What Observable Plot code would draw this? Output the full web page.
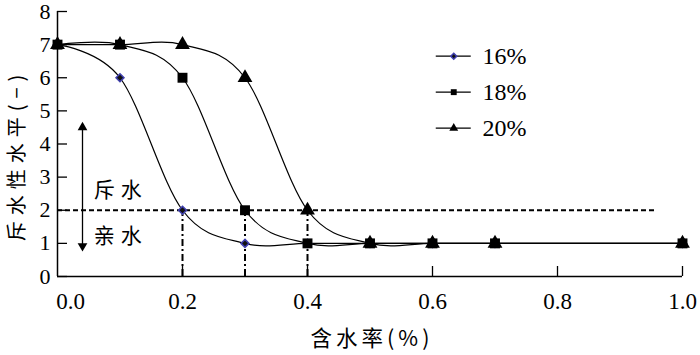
<!DOCTYPE html>
<html><head><meta charset="utf-8">
<script src="https://cdn.jsdelivr.net/npm/d3@7"></script>
<script src="https://cdn.jsdelivr.net/npm/@observablehq/plot@0.6"></script>
<style>
body{margin:0;background:#fff;}
#chart{width:700px;height:355px;}
#chart g[font-family*="CJK"] text{letter-spacing:6px;}
#chart g[font-family*="CJK"][font-size="21.5"] text{letter-spacing:4px;}
</style>
</head><body><div id="chart"></div>
<script>
// ---- data ----
const moisture = [0, 0.1, 0.2, 0.3, 0.4, 0.5, 0.6, 0.7, 1.0];
const series16 = [7, 6, 2, 1, 1, 1, 1, 1, 1];
const series18 = [7, 7, 6, 2, 1, 1, 1, 1, 1];
const series20 = [7, 7, 7, 6, 2, 1, 1, 1, 1];
const seriesNames = ["16%", "18%", "20%"];
const xTicks = [0, 0.2, 0.4, 0.6, 0.8, 1.0];
const yTicks = [0, 1, 2, 3, 4, 5, 6, 7, 8];
const threshold = 2;
const thresholdEnd = 0.96;
const crossX = [0.2, 0.3, 0.4];
const zoneLabels = ["斥水", "亲水"];
const xLabel = "含水率(%)";
const yLabel = "斥水性水平(−)";

const toRows = (name, ys) => moisture.map((x, i) => ({x, y: ys[i], s: name}));
const d16 = toRows(seriesNames[0], series16);
const d18 = toRows(seriesNames[1], series18);
const d20 = toRows(seriesNames[2], series20);
const curve = d3.curveCardinal.tension(0);

const serif = '"Liberation Serif", "Times New Roman", serif';
const cjk = '"Noto Sans CJK SC", sans-serif';
const fmt = d3.format(".1f");

// legend rows (placed inside the plot area)
const legend = seriesNames.map((s, i) => ({s, y: 6.65 - i * 1.085}));
const symbols = ["diamond2", "square", "triangle"];

const chart = Plot.plot({
  width: 700, height: 355,
  marginLeft: 57, marginRight: 18, marginTop: 11, marginBottom: 79,
  style: {fontFamily: serif, fontSize: "22px", color: "#000", background: "#fff"},
  x: {domain: [0, 1], label: null},
  y: {domain: [0, 8], label: null},
  symbol: {type: "identity"},
  marks: [
    // threshold dashed line and dash-dot drop lines
    Plot.ruleY([threshold], {x1: 0, x2: thresholdEnd, stroke: "#000", strokeWidth: 2, strokeDasharray: "5,3"}),
    Plot.ruleX(crossX, {x: d => d, y1: 0, y2: threshold, stroke: "#000", strokeWidth: 2, strokeDasharray: "7,3,2,3"}),
    // curves
    Plot.line(d16, {x: "x", y: "y", curve, stroke: "#000", strokeWidth: 1.2}),
    Plot.line(d20, {x: "x", y: "y", curve, stroke: "#000", strokeWidth: 1.2}),
    Plot.line(d18, {x: "x", y: "y", curve, stroke: "#000", strokeWidth: 1.2}),
    Plot.dot(d16, {x: "x", y: "y", symbol: "diamond2", r: 3.6, fill: "#111", stroke: "#4040b0", strokeWidth: 1.5}),
    Plot.dot(d20, {x: "x", y: "y", symbol: "triangle", r: 5.5, fill: "#000", stroke: "none"}),
    Plot.dot(d18, {x: "x", y: "y", symbol: "square", r: 5.6, fill: "#000", stroke: "none"}),
    // axes
    Plot.ruleX([0], {stroke: "#000", strokeWidth: 1.5}),
    Plot.ruleY([0], {stroke: "#000", strokeWidth: 1.5}),
    Plot.axisY({ticks: yTicks, tickSize: -10, tickPadding: 17, fontSize: 22, fontFamily: serif, label: null, strokeWidth: 1.3}),
    Plot.axisX({ticks: xTicks.slice(1), tickSize: -10, tickPadding: 26, fontSize: 23, fontFamily: serif, label: null, tickFormat: fmt, strokeWidth: 1.3}),
    Plot.text(xTicks.slice(0, 1), {x: d => d, frameAnchor: "bottom", lineAnchor: "top", dy: 16, dx: 13, text: fmt, fontSize: 23, fontFamily: serif}),
    // double arrow
    Plot.ruleX([0.04], {y1: 0.95, y2: 4.45, stroke: "#000", strokeWidth: 1.3}),
    Plot.dot([4.5], {x: 0.04, y: d => d, symbol: "triangle", r: 3.6, fill: "#000", stroke: "none"}),
    Plot.dot([0.92], {x: 0.04, y: d => d, symbol: "triangle", rotate: 180, r: 3.6, fill: "#000", stroke: "none"}),
    Plot.text(zoneLabels, {x: 0.058, y: (d, i) => i === 0 ? 2.6 : 1.22, text: d => d, textAnchor: "start", fontFamily: cjk, fontSize: 21}),
    // legend
    Plot.ruleY(legend, {y: "y", x1: 0.606, x2: 0.662, stroke: "#000", strokeWidth: 1.3}),
    Plot.dot(legend, {x: 0.634, y: "y", symbol: (d, i) => symbols[i], r: (d, i) => [3.6, 5.6, 5.5][i], fill: (d, i) => i === 0 ? "#111" : "#000", stroke: (d, i) => i === 0 ? "#4040b0" : "none", strokeWidth: 1.5}),
    Plot.text(legend, {x: 0.68, y: "y", text: "s", textAnchor: "start", fontSize: 24, fontFamily: serif}),
    // axis titles
    Plot.text([xLabel], {frameAnchor: "bottom", lineAnchor: "middle", textAnchor: "middle", dy: 63, dx: 2, fontFamily: cjk, fontSize: 21.5, text: d => d}),
    Plot.text([yLabel], {frameAnchor: "left", textAnchor: "middle", lineAnchor: "middle", dx: -40, dy: 11, rotate: -90, fontFamily: cjk, fontSize: 20, text: d => d})
  ]
});
document.getElementById("chart").appendChild(chart);
</script>
</body></html>
